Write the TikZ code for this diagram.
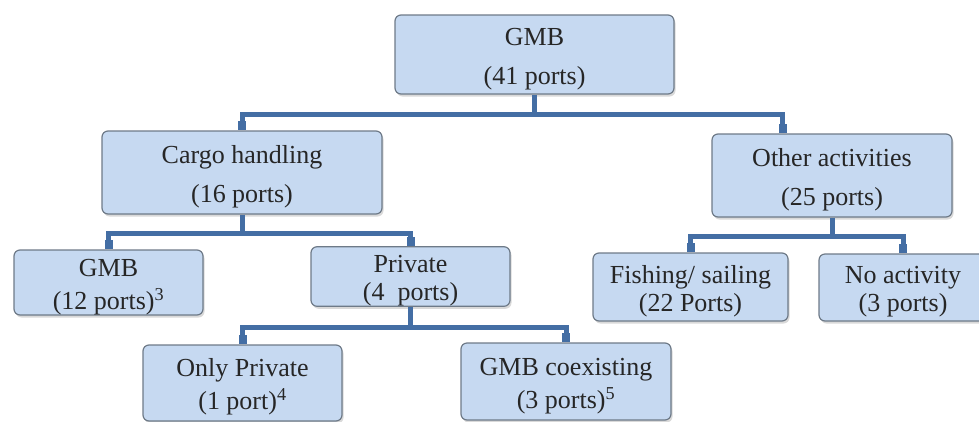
\documentclass[tikz,border=0pt]{standalone}
\usepackage{fontspec}
\setmainfont{Liberation Serif}
\definecolor{BoxBlue}{RGB}{198,217,241}
\definecolor{BoxEdge}{RGB}{110,122,136}
\definecolor{LinkBlue}{RGB}{68,110,164}
\usetikzlibrary{arrows.meta, shadows, calc}
\newcommand{\topstrut}{\rule{0pt}{26pt}}

\begin{document}
\begin{tikzpicture}[x=1pt, y=-1pt,
        box/.style={rectangle, rounded corners=6pt, draw=BoxEdge, line width=1.2pt, fill=BoxBlue, align=center, text=black!85, inner sep=0pt,
            drop shadow={shadow xshift=1.5pt, shadow yshift=-2.5pt, opacity=0.3}},
        tallbox/.style={box, font=\fontsize{26}{39}\selectfont},
        midbox/.style={box, font=\fontsize{26}{33}\selectfont},
        flatbox/.style={box, font=\fontsize{26}{28}\selectfont},
        link/.style={draw=LinkBlue, line width=5pt, -{Rectangle[length=9pt, width=8pt]}},
    ]
    \path[use as bounding box] (0,0) rectangle (979,421);
    \clip (0,0) rectangle (979,421);

    \node[tallbox, minimum width=279pt, minimum height=79pt] (root) at (534.5,54.5) {\topstrut GMB\\(41 ports)};
    \node[tallbox, minimum width=280pt, minimum height=83pt] (cargo) at (242,172.5) {\topstrut Cargo handling\\(16 ports)};
    \node[tallbox, minimum width=240pt, minimum height=83pt] (other) at (832,175.5) {\topstrut Other activities\\(25 ports)};

    \node[midbox, minimum width=189pt, minimum height=65pt] (gmb) at (108.5,282.5) {\topstrut GMB\\(12 ports)\textsuperscript{3}};
    \node[flatbox, minimum width=199pt, minimum height=55pt] (private) at (410.5,276.5) {\topstrut Private\\(4~ ports)};
    \node[flatbox, minimum width=195pt, minimum height=68pt] (fishing) at (690.5,287) {\topstrut Fishing/ sailing\\(22 Ports)};
    \node[flatbox, minimum width=168pt, minimum height=67pt] (noact) at (903,287.5) {\topstrut No activity\\(3 ports)};

    \node[midbox, minimum width=199pt, minimum height=76pt] (onlypriv) at (242.5,383) {\topstrut Only Private\\(1 port)\textsuperscript{4}};
    \node[midbox, minimum width=210pt, minimum height=77pt] (coexist) at (566,381.5) {\topstrut GMB coexisting\\(3 ports)\textsuperscript{5}};

    \coordinate (jroot) at (534.5,114);
    \coordinate (jcargo) at (242,233);
    \coordinate (jprivate) at (410.5,327);
    \coordinate (jother) at (832,236);
    \coordinate (otherin) at ($(other.north west)!.296!(other.north east)$);

    \draw[link] (root.south) -- (jroot) -| (cargo.north);
    \draw[link] (jroot) -| (otherin);
    \draw[link] (cargo.south) -- (jcargo) -| (gmb.north);
    \draw[link] (jcargo) -| (private.north);
    \draw[link] (private.south) -- (jprivate) -| (onlypriv.north);
    \draw[link] (jprivate) -| (coexist.north);
    \draw[link] (other.south) -- (jother) -| (fishing.north);
    \draw[link] (jother) -| (noact.north);
\end{tikzpicture}
\end{document}
